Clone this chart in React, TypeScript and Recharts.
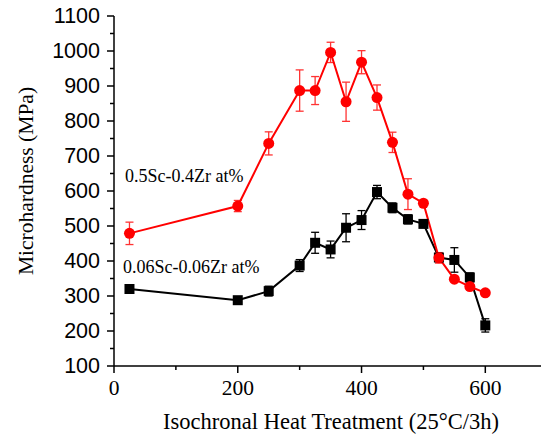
import { LineChart, Line, XAxis, YAxis, ErrorBar } from 'recharts';

const temps = [25, 200, 250, 300, 325, 350, 375, 400, 425, 450, 475, 500, 525, 550, 575, 600];
const highScZr = [479, 557, 736, 887, 887, 996, 855, 968, 867, 739, 591, 565, 409, 348, 327, 309];
const highScZrErr = [32, 16, 33, 59, 40, 29, 56, 33, 36, 29, 44, 6, 15, 6, 6, 6];
const lowScZr = [320, 288, 314, 387, 452, 433, 495, 517, 597, 552, 519, 506, 410, 403, 353, 216];
const lowScZrErr = [8, 8, 14, 17, 30, 24, 40, 27, 19, 14, 13, 8, 8, 35, 13, 19];

const xTicks = [0, 100, 200, 300, 400, 500, 600];
const yTicks = [100, 150, 200, 250, 300, 350, 400, 450, 500, 550, 600, 650, 700, 750, 800, 850, 900, 950, 1000, 1050, 1100];

const data = temps.map((t, i) => ({
  t,
  high: highScZr[i],
  highErr: highScZrErr[i],
  low: lowScZr[i],
  lowErr: lowScZrErr[i],
}));

const serif = '"Liberation Serif", "Times New Roman", serif';
const sans = '"Liberation Sans", Arial, sans-serif';

const XTick = ({ x, y, payload }: any) => {
  const major = payload.value % 200 === 0;
  return (
    <g>
      <line x1={x} x2={x} y1={y} y2={y + (major ? 7 : 4)} stroke='#000' strokeWidth={1.5} />
      {major && (
        <text x={x} y={y + 29} textAnchor='middle' fontFamily={serif} fontSize={21.5} fill='#000'>
          {payload.value}
        </text>
      )}
    </g>
  );
};

const YTick = ({ x, y, payload }: any) => {
  const major = payload.value % 100 === 0;
  return (
    <g>
      <line x1={x} x2={x - (major ? 7 : 4)} y1={y} y2={y} stroke='#000' strokeWidth={1.5} />
      {major && (
        <text x={x - 14} y={y} textAnchor='end' dominantBaseline='central' fontFamily={sans} fontSize={21.5} fill='#000'>
          {payload.value}
        </text>
      )}
    </g>
  );
};

const Square = ({ cx, cy, index }: any) => (
  <rect key={`sq-${index}`} x={cx - 5} y={cy - 5} width={10} height={10} fill='#000' />
);

const Circle = ({ cx, cy, index }: any) => (
  <circle key={`ci-${index}`} cx={cx} cy={cy} r={5.5} fill='#ff0000' />
);

export default function App() {
  return (
    <div style={{ position: 'absolute', left: 0, top: 0, width: 542, height: 440, background: '#fff' }}>
      <LineChart width={542} height={440} data={data} margin={{ top: 16, right: 1, left: 0, bottom: 0 }}>
        <XAxis
          dataKey='t'
          type='number'
          domain={[0, 690]}
          ticks={xTicks}
          tick={<XTick />}
          tickLine={false}
          tickSize={0}
          tickMargin={0}
          height={74}
          axisLine={{ stroke: '#000', strokeWidth: 1.5 }}
        />
        <YAxis
          type='number'
          domain={[100, 1100]}
          ticks={yTicks}
          tick={<YTick />}
          tickLine={false}
          tickSize={0}
          tickMargin={0}
          width={114}
          interval={0}
          axisLine={{ stroke: '#000', strokeWidth: 1.5 }}
        />
        <Line dataKey='low' stroke='#000' strokeWidth={2} dot={<Square />} isAnimationActive={false}>
          <ErrorBar dataKey='lowErr' width={4} stroke='#000' strokeWidth={1.3} direction='y' />
        </Line>
        <Line dataKey='high' stroke='#ff0000' strokeWidth={2} dot={<Circle />} isAnimationActive={false}>
          <ErrorBar dataKey='highErr' width={4} stroke='#ff3333' strokeWidth={1.3} direction='y' />
        </Line>
      </LineChart>
      <svg width={542} height={440} style={{ position: 'absolute', left: 0, top: 0, pointerEvents: 'none' }}>
        <text x={331} y={429} textAnchor='middle' fontFamily={serif} fontSize={22.5} fill='#000'>
          Isochronal Heat Treatment (25°C/3h)
        </text>
        <text
          x={0}
          y={0}
          transform='translate(33 181) rotate(-90)'
          textAnchor='middle'
          fontFamily={serif}
          fontSize={21.5}
          fill='#000'
        >
          Microhardness (MPa)
        </text>
        <text x={125} y={182} fontFamily={serif} fontSize={18} fill='#000'>
          0.5Sc-0.4Zr at%
        </text>
        <text x={123} y={273} fontFamily={serif} fontSize={18} fill='#000'>
          0.06Sc-0.06Zr at%
        </text>
      </svg>
    </div>
  );
}
